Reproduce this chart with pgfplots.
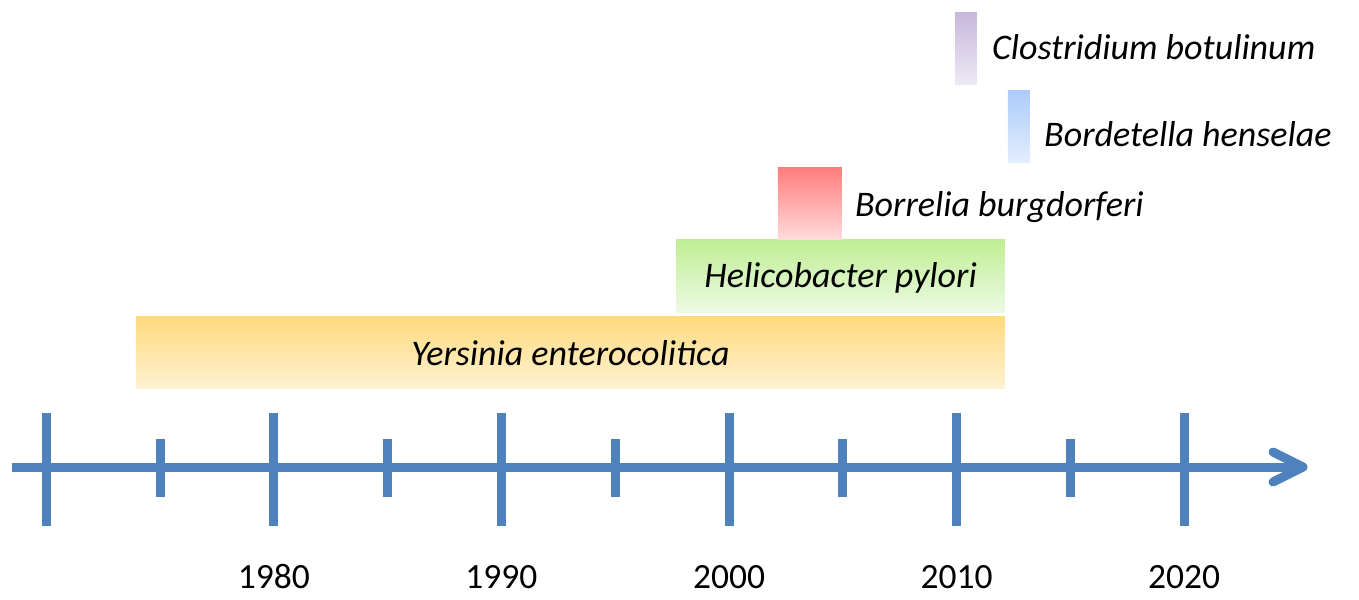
\documentclass[border=0pt]{standalone}
\usepackage{pgfplots}
\pgfplotsset{compat=1.18}
\usepackage{fontspec}
\setmainfont{Carlito}
\definecolor{axblue}{RGB}{79,129,189}
\definecolor{yerT}{RGB}{255,218,125}
\definecolor{yerB}{RGB}{255,242,210}
\definecolor{helT}{RGB}{192,238,148}
\definecolor{helB}{RGB}{236,250,228}
\definecolor{borT}{RGB}{255,125,125}
\definecolor{borB}{RGB}{255,220,220}
\definecolor{bdtT}{RGB}{172,204,250}
\definecolor{bdtB}{RGB}{228,238,253}
\definecolor{cloT}{RGB}{200,184,220}
\definecolor{cloB}{RGB}{238,234,246}
\tikzset{lab/.style={font=\fontsize{36}{42}\selectfont\itshape, inner sep=0pt},
         yrl/.style={font=\fontsize{35.5}{42}\selectfont, inner sep=0pt, anchor=base}}
\begin{document}
\begin{tikzpicture}
\begin{axis}[
  scale only axis, width=1359pt, height=599pt,
  xmin=1967.966, xmax=2027.68, ymin=0, ymax=599,
  hide axis, clip=false,
]
% bars
\addplot[draw=none, top color=yerT, bottom color=yerB] coordinates {(1973.94,211) (2012.12,211) (2012.12,283) (1973.94,283)} -- cycle;
\addplot[draw=none, top color=helT, bottom color=helB] coordinates {(1997.67,287) (2012.12,287) (2012.12,359) (1997.67,359)} -- cycle;
\addplot[draw=none, top color=borT, bottom color=borB] coordinates {(2002.15,359) (2004.96,359) (2004.96,431) (2002.15,431)} -- cycle;
\addplot[draw=none, top color=bdtT, bottom color=bdtB] coordinates {(2012.25,436) (2013.22,436) (2013.22,508) (2012.25,508)} -- cycle;
\addplot[draw=none, top color=cloT, bottom color=cloB] coordinates {(2009.93,514) (2010.89,514) (2010.89,586) (2009.93,586)} -- cycle;
% timeline
\addplot[axblue, line width=9pt] coordinates {(1968.49,132) (2025.0,132)};
\addplot[axblue, line width=9pt, line cap=round, line join=round] coordinates {(2023.9,147) (2025.22,132) (2023.9,117)};
% big ticks
\addplot[axblue, line width=9pt] coordinates {(1970,73) (1970,186)};
\addplot[axblue, line width=9pt] coordinates {(1980,73) (1980,186)};
\addplot[axblue, line width=9pt] coordinates {(1990,73) (1990,186)};
\addplot[axblue, line width=9pt] coordinates {(2000,73) (2000,186)};
\addplot[axblue, line width=9pt] coordinates {(2010,73) (2010,186)};
\addplot[axblue, line width=9pt] coordinates {(2020,73) (2020,186)};
% small ticks
\addplot[axblue, line width=9pt] coordinates {(1975,102) (1975,160)};
\addplot[axblue, line width=9pt] coordinates {(1985,102) (1985,160)};
\addplot[axblue, line width=9pt] coordinates {(1995,102) (1995,160)};
\addplot[axblue, line width=9pt] coordinates {(2005,102) (2005,160)};
\addplot[axblue, line width=9pt] coordinates {(2015,102) (2015,160)};
% labels
\node[lab, anchor=base west] at (axis cs:2011.55,539) {Clostridium botulinum};
\node[lab, anchor=base west] at (axis cs:2013.84,452) {Bordetella henselae};
\node[lab, anchor=base west] at (axis cs:2005.53,382) {Borrelia burgdorferi};
\node[lab, anchor=base] at (axis cs:2004.9,312) {Helicobacter pylori};
\node[lab, anchor=base] at (axis cs:1993.03,234) {Yersinia enterocolitica};
\node[yrl] at (axis cs:1980,11) {1980};
\node[yrl] at (axis cs:1990,11) {1990};
\node[yrl] at (axis cs:2000,11) {2000};
\node[yrl] at (axis cs:2010,11) {2010};
\node[yrl] at (axis cs:2020,11) {2020};
\end{axis}
\path (current axis.south west) rectangle (current axis.north east);
\end{tikzpicture}
\end{document}
